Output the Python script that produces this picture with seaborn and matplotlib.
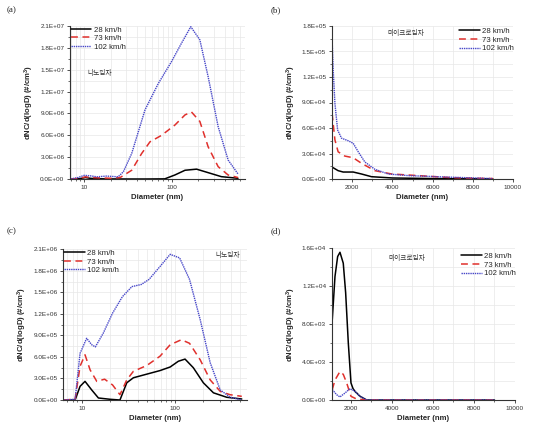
#!/usr/bin/env python3
import matplotlib
matplotlib.use("Agg")
import matplotlib.pyplot as plt
import matplotlib.ticker as mticker
import seaborn as sns

# (a) nanoparticles, diameter in nm (log axis)
a_black_d = [7, 9, 10.3, 12, 15, 20, 30, 50, 83, 108, 141, 191, 259, 366, 566]
a_black_v = [0, 5e4, 2e5, 8e4, 3e4, 1e4, 0, 0, 2e4, 5.5e5, 1.2e6, 1.35e6, 8.7e5, 3.2e5, 1e5]
a_red_d = [7, 9, 10.3, 12, 15, 20, 25.7, 34.8, 45.2, 56.2, 76.3, 108, 141, 167, 208, 259, 336, 437, 566]
a_red_v = [0, 1e5, 3e5, 2e5, 1.5e5, 1e5, 2e5, 1.2e6, 3.5e6, 5.1e6, 6.0e6, 7.4e6, 8.8e6, 9.2e6, 7.9e6, 4.4e6, 1.7e6, 5.5e5, 2e5]
a_blue_d = [7, 8.5, 10, 11.5, 14, 18, 24.4, 28, 34.8, 49.4, 69.9, 98.8, 128, 164, 208, 259, 336, 437, 566]
a_blue_v = [0, 2e5, 5e5, 4.5e5, 3e5, 4e5, 3e5, 1e6, 3.5e6, 9.5e6, 1.31e7, 1.61e7, 1.86e7, 2.09e7, 1.91e7, 1.40e7, 7.2e6, 2.6e6, 6.9e5]

# (b) microparticles
b_black_d = [1000, 1300, 1550, 2050, 2460, 2960, 4000, 6000, 9000]
b_black_v = [1.4e4, 9.8e3, 8.2e3, 8.2e3, 5.9e3, 2.7e3, 1.2e3, 5e2, 2e2]
b_red_d = [1000, 1140, 1300, 1630, 2050, 2460, 3130, 3960, 5620, 7000, 9000]
b_red_v = [7.7e4, 4.6e4, 3.2e4, 2.7e4, 2.5e4, 1.85e4, 9.8e3, 5.9e3, 3.5e3, 1.5e3, 5e2]
b_blue_d = [1000, 1055, 1140, 1275, 1470, 1800, 2050, 2300, 2630, 3130, 3790, 4790, 6450, 9000]
b_blue_v = [1.65e5, 1.28e5, 8.9e4, 5.76e4, 4.8e4, 4.5e4, 4.2e4, 3.2e4, 2.0e4, 1.14e4, 5.9e3, 4e3, 2.5e3, 5e2]

# (c) nanoparticles
c_black_d = [6.35, 8.5, 9.6, 10.85, 12.8, 15.1, 20.1, 25.7, 30.4, 35.8, 49.7, 69, 88.7, 108.5, 128, 157, 201, 258, 358, 519]
c_black_v = [0, 0, 1.9e5, 2.6e5, 1.4e5, 2.8e4, 1e4, 0, 2.4e5, 3.1e5, 3.6e5, 4.1e5, 4.6e5, 5.4e5, 5.7e5, 4.5e5, 2.4e5, 1.0e5, 3.8e4, 1.4e4]
c_red_d = [6.35, 8.5, 9.6, 10.85, 12.3, 14.5, 17.6, 21.4, 25.7, 30.4, 35.8, 49.7, 69, 88.7, 117, 143, 186, 238, 305, 388, 519]
c_red_v = [0, 1e4, 4.7e5, 6.3e5, 4.2e5, 2.6e5, 2.9e5, 2.1e5, 7.4e4, 2.8e5, 4.0e5, 4.8e5, 6.1e5, 7.7e5, 8.4e5, 7.9e5, 5.6e5, 2.8e5, 1.2e5, 7.4e4, 5.1e4]
c_blue_d = [6.35, 8.5, 9.6, 11.3, 12.8, 14.0, 17, 21.4, 27.3, 34.5, 43.5, 52.6, 69, 88.7, 112, 143, 186, 238, 305, 388, 519]
c_blue_v = [0, 1e4, 6.5e5, 8.6e5, 7.7e5, 7.4e5, 9.3e5, 1.21e6, 1.44e6, 1.58e6, 1.61e6, 1.68e6, 1.86e6, 2.03e6, 1.98e6, 1.68e6, 1.12e6, 5.2e5, 1.4e5, 4e4, 0]

# (d) microparticles
d_black_d = [1088, 1220, 1350, 1463, 1624, 1740, 1870, 2000, 2100, 2195, 2440, 2765, 4000, 9000]
d_black_v = [8.46e3, 1.30e4, 1.51e4, 1.555e4, 1.44e4, 1.13e4, 6.0e3, 1.8e3, 1.2e3, 9.1e2, 3.9e2, 0, 0, 0]
d_red_d = [1088, 1220, 1463, 1624, 1790, 2000, 2275, 2765, 9000]
d_red_v = [1.1e3, 2.1e3, 3.0e3, 2.7e3, 1.8e3, 3.9e2, 1e2, 0, 0]
d_blue_d = [1088, 1300, 1463, 1710, 1950, 2195, 2440, 2765, 9000]
d_blue_v = [1.1e3, 5.6e2, 3.2e2, 7.4e2, 1.19e3, 9.1e2, 3.9e2, 0, 0]

SPEED_LABELS = ["28 km/h", "73 km/h", "102 km/h"]
PANEL_LABELS = ["(a)", "(b)", "(c)", "(d)"]
NOTES = ["나노입자", "마이크로입자", "나노입자", "마이크로입자"]

STYLES = [
    dict(color="black", linewidth=1.1, linestyle="-"),
    dict(color="#e0302c", linewidth=1.1, linestyle=(0, (4.5, 3))),
    dict(color="#4646c8", linewidth=1.0, linestyle=(0, (1, 0.6))),
]

sns.set_theme(style="white")
plt.rcParams["font.family"] = ["Liberation Sans", "Noto Sans CJK KR", "DejaVu Sans"]
plt.rcParams["mathtext.fontset"] = "custom"
plt.rcParams["mathtext.bf"] = "Liberation Sans:bold"
plt.rcParams["mathtext.rm"] = "Liberation Sans"

W, H = 533, 432
fig = plt.figure(figsize=(W / 100, H / 100), dpi=100)


def make_axes(left, top, right, bottom):
    return fig.add_axes([left / W, 1 - bottom / H, (right - left) / W, (bottom - top) / H])


panels = [
    dict(ax=make_axes(70, 26, 245, 179), series=[(a_black_d, a_black_v), (a_red_d, a_red_v), (a_blue_d, a_blue_v)],
         log=True, xlim=(6.9, 680), ylim=(0, 2.1e7), ystep=3e6,
         note=(0.097, 0.69, "left"), legend=dict(loc="upper left", bbox_to_anchor=(-0.02, 1.03))),
    dict(ax=make_axes(331.7, 26, 513, 179), series=[(b_black_d, b_black_v), (b_red_d, b_red_v), (b_blue_d, b_blue_v)],
         log=False, xlim=(980, 10000), ylim=(0, 1.8e5), ystep=3e4,
         note=(0.31, 0.955, "left"), legend=dict(loc="upper right", bbox_to_anchor=(1.03, 1.02))),
    dict(ax=make_axes(63.3, 249.3, 246.7, 400), series=[(c_black_d, c_black_v), (c_red_d, c_red_v), (c_blue_d, c_blue_v)],
         log=True, xlim=(6.35, 586), ylim=(0, 2.1e6), ystep=3e5,
         note=(0.827, 0.962, "left"), legend=dict(loc="upper left", bbox_to_anchor=(-0.02, 1.03))),
    dict(ax=make_axes(331.7, 248, 515, 400), series=[(d_black_d, d_black_v), (d_red_d, d_red_v), (d_blue_d, d_blue_v)],
         log=False, xlim=(1060, 10000), ylim=(0, 1.6e4), ystep=4e3,
         note=(0.307, 0.935, "left"), legend=dict(loc="upper right", bbox_to_anchor=(1.03, 1.0))),
]

label_pos = [(7, 10), (271, 10), (7, 231), (271, 231)]

for i, p in enumerate(panels):
    ax = p["ax"]
    if p["log"]:
        ax.set_xscale("log")
    for (xs, ys), style, label in zip(p["series"], STYLES, SPEED_LABELS):
        sns.lineplot(x=xs, y=ys, ax=ax, label=label, sort=False, **style)

    ax.set_xlim(*p["xlim"])
    ax.set_ylim(*p["ylim"])
    ax.yaxis.set_major_locator(mticker.MultipleLocator(p["ystep"]))
    ax.yaxis.set_minor_locator(mticker.MultipleLocator(p["ystep"] / 2))
    ax.yaxis.set_major_formatter(mticker.FuncFormatter(lambda v, _: f"{v:.1E}"))
    if p["log"]:
        ax.xaxis.set_major_locator(mticker.LogLocator(base=10))
        ax.xaxis.set_minor_locator(mticker.LogLocator(base=10, subs=range(2, 10)))
        ax.xaxis.set_major_formatter(mticker.FuncFormatter(lambda v, _: f"{v:g}"))
        ax.xaxis.set_minor_formatter(mticker.NullFormatter())
    else:
        ax.xaxis.set_major_locator(mticker.MultipleLocator(2000))
        ax.xaxis.set_minor_locator(mticker.MultipleLocator(1000))
        ax.xaxis.set_major_formatter(mticker.FuncFormatter(lambda v, _: f"{v:.0f}"))

    ax.grid(True, which="both", color="#e8e8e8", linewidth=0.5)
    ax.set_axisbelow(True)
    for side in ("top", "right"):
        ax.spines[side].set_visible(False)
    for side in ("left", "bottom"):
        ax.spines[side].set_color("#333333")
        ax.spines[side].set_linewidth(0.8)
    ax.tick_params(which="major", direction="out", length=2.5, width=0.6, labelsize=4.6, pad=1.5,
                   left=True, bottom=True, colors="#333333")
    ax.tick_params(which="minor", direction="out", length=1.3, width=0.5, left=True, bottom=True, colors="#333333")

    ax.set_xlabel("Diameter (nm)", fontsize=5.6, fontweight="bold", labelpad=3)
    ax.set_ylabel(r"dNC/d(logD) (#/cm$\mathbf{^3}$)", fontsize=5.6, fontweight="bold", labelpad=3)

    nx, ny, ha = p["note"]
    ax.text(nx, ny, NOTES[i], transform=ax.transAxes, ha=ha, va="center", fontsize=4.8,
            family=["Noto Sans CJK KR", "DejaVu Sans"], color="#333333")

    ax.legend(frameon=False, fontsize=5.6, handlelength=2.6, handletextpad=0.3, labelspacing=0.15,
              borderaxespad=0.2, **p["legend"])

    lx, ly = label_pos[i]
    fig.text(lx / W, 1 - ly / H, PANEL_LABELS[i], ha="left", va="center", fontsize=6.5,
             family=["Liberation Serif", "DejaVu Serif"])

fig.savefig("out.png", dpi=100)
